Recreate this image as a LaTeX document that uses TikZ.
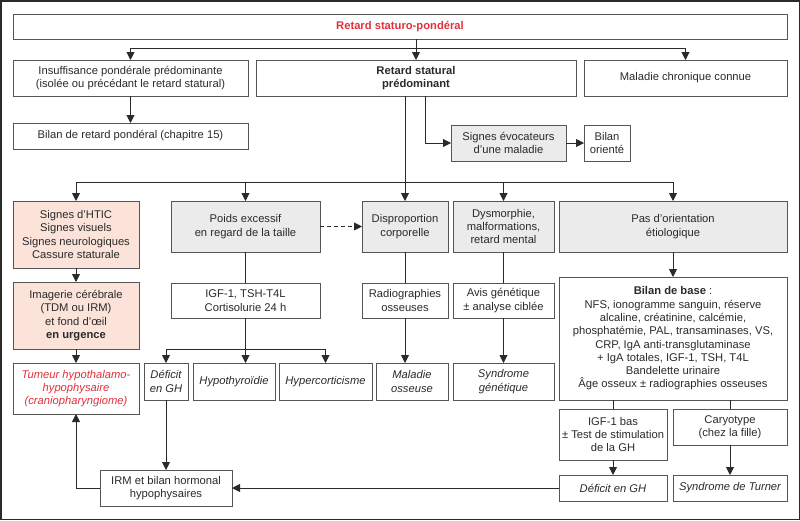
\documentclass[tikz,border=0pt]{standalone}
\usepackage{fontspec}
\setmainfont{Liberation Sans}
\usetikzlibrary{arrows.meta,calc}
\definecolor{txt}{HTML}{2A2A2A}
\definecolor{bord}{HTML}{555555}
\definecolor{grayf}{HTML}{EBEBEB}
\definecolor{peach}{HTML}{FBE3D9}
\definecolor{redt}{HTML}{E0303A}
\begin{document}
\begin{tikzpicture}[x=1pt,y=-1pt,
  box/.style={draw=bord,line width=0.9pt,inner sep=0pt,outer sep=0pt,align=center,text=txt,
    font=\fontsize{11.2}{13.3}\selectfont},
  gbox/.style={box,fill=grayf},
  pbox/.style={box,fill=peach},
  itbox/.style={box,font=\fontsize{11.2}{13.3}\selectfont\itshape},
  ln/.style={draw=txt,line width=0.9pt},
  arr/.style={ln,-{Triangle[length=8pt,width=8pt]}},
  wh/.style 2 args={minimum width=#1,minimum height=#2}]
\useasboundingbox (0,0) rectangle (800,520);
\draw[draw=txt,line width=1.5pt] (0.75,0.75) rectangle (799.25,519.25);
% row 1
\node[box,wh={774pt}{25pt},text=redt,font=\fontsize{11.2}{13.3}\selectfont\bfseries] (top) at (400,26.5) {Retard staturo-pondéral};
% row 2
\node[box,wh={235pt}{36pt}] (ins) at (130.5,78) {Insuffisance pondérale prédominante\\(isolée ou précédant le retard statural)};
\node[box,wh={320pt}{36pt},font=\fontsize{11.2}{13.3}\selectfont\bfseries] (rs) at (416,78) {Retard statural\\prédominant};
\node[box,wh={203pt}{36pt}] (mc) at (685.5,78) {Maladie chronique connue};
\node[box,wh={235pt}{26pt}] (bp) at (130.5,136) {Bilan de retard pondéral (chapitre 15)};
\node[gbox,wh={115pt}{36pt}] (se) at (508.5,143) {Signes évocateurs\\d’une maladie};
\node[box,wh={46pt}{36pt}] (bo) at (607,143) {Bilan\\orienté};
% row 3
\node[pbox,wh={126pt}{67pt}] (htic) at (76,234.5) {Signes d’HTIC\\Signes visuels\\Signes neurologiques\\Cassure staturale};
\node[gbox,wh={149pt}{51pt}] (pe) at (245.5,226.5) {Poids excessif\\en regard de la taille};
\node[gbox,wh={86pt}{51pt}] (dp) at (405,226.5) {Disproportion\\corporelle};
\node[gbox,wh={101pt}{51pt}] (dy) at (503.5,226.5) {Dysmorphie,\\malformations,\\retard mental};
\node[gbox,wh={228pt}{51pt}] (po) at (673,226.5) {Pas d’orientation\\étiologique};
% row 4
\node[pbox,wh={126pt}{67pt}] (img) at (76,315.5) {Imagerie cérébrale\\(TDM ou IRM)\\et fond d’œil\\\textbf{en urgence}};
\node[box,wh={149pt}{35pt}] (igf) at (245.5,300.5) {IGF-1, TSH-T4L\\Cortisolurie 24 h};
\node[box,wh={86pt}{35pt}] (rad) at (405,300.5) {Radiographies\\osseuses};
\node[box,wh={101pt}{35pt}] (avis) at (503.5,300.5) {Avis génétique\\± analyse ciblée};
\node[box,wh={228pt}{123pt}] (bb) at (673,338.5) {\textbf{Bilan de base} :\\NFS, ionogramme sanguin, réserve\\alcaline, créatinine, calcémie,\\phosphatémie, PAL, transaminases, VS,\\CRP, IgA anti-transglutaminase\\+ IgA totales, IGF-1, TSH, T4L\\Bandelette urinaire\\Âge osseux ± radiographies osseuses};
% row 5
\node[itbox,wh={126pt}{51pt},text=redt] (tum) at (76,388.5) {Tumeur hypothalamo-\\hypophysaire\\(craniopharyngiome)};
\node[itbox,wh={44pt}{37pt}] (dgh1) at (166,381.5) {Déficit\\en GH};
\node[itbox,wh={82pt}{37pt}] (hypo) at (234,381.5) {Hypothyroïdie};
\node[itbox,wh={93pt}{37pt}] (hyper) at (325.5,381.5) {Hypercorticisme};
\node[itbox,wh={72pt}{37pt}] (mo) at (412,381.5) {Maladie\\osseuse};
\node[itbox,wh={101pt}{37pt}] (sg) at (503.5,381.5) {Syndrome\\génétique};
\node[box,wh={108pt}{51pt}] (igfb) at (613,434.5) {IGF-1 bas\\± Test de stimulation\\de la GH};
\node[box,wh={114pt}{36pt}] (car) at (730,427) {Caryotype\\(chez la fille)};
\node[itbox,wh={108pt}{26pt}] (dgh2) at (613,488) {Déficit en GH};
\node[itbox,wh={114pt}{26pt}] (st) at (730,488) {Syndrome de Turner};
\node[box,wh={132pt}{36pt}] (irm) at (166,488) {IRM et bilan hormonal\\hypophysaires};
% connectors
\coordinate (j1) at (416,48);
\draw[ln] (top.south -| j1) -- (j1);
\draw[ln] (ins.north |- j1) -- (mc.north |- j1);
\draw[arr] (ins.north |- j1) -- (ins.north);
\draw[arr] (j1) -- (rs.north);
\draw[arr] (mc.north |- j1) -- (mc.north);
\draw[arr] (ins) -- (bp);
\coordinate (rsx) at (425,96);
\draw[arr] (rsx) |- (se.west);
\draw[arr] (se) -- (bo);
\coordinate (j2) at (405,182);
\draw[ln] (rs.south -| j2) -- (j2);
\draw[ln] (htic.north |- j2) -- (po.north |- j2);
\draw[arr] (htic.north |- j2) -- (htic.north);
\draw[arr] (pe.north |- j2) -- (pe.north);
\draw[arr] (j2) -- (dp.north);
\draw[arr] (dy.north |- j2) -- (dy.north);
\draw[arr] (po.north |- j2) -- (po.north);
\draw[arr,dash pattern=on 4pt off 3pt] (pe) -- (dp);
\draw[arr] (htic) -- (img);
\draw[arr] (img) -- (tum);
\draw[ln] (pe) -- (igf);
\draw[ln] (dp) -- (rad);
\draw[ln] (dy) -- (avis);
\draw[arr] (po) -- (bb);
\coordinate (j3) at (245.5,349);
\draw[ln] (igf.south) -- (j3);
\draw[ln] (dgh1.north |- j3) -- (hyper.north |- j3);
\draw[arr] (dgh1.north |- j3) -- (dgh1.north);
\draw[arr] (j3) -- (j3 |- hypo.north);
\draw[arr] (hyper.north |- j3) -- (hyper.north);
\draw[arr] (rad.south) -- (rad.south |- mo.north);
\draw[arr] (avis) -- (sg);
\draw[ln] (bb.south -| igfb.north) -- (igfb.north);
\draw[ln] (bb.south -| car.north) -- (car.north);
\draw[arr] (igfb) -- (dgh2);
\draw[arr] (car) -- (st);
\draw[arr] (dgh1) -- (irm);
\draw[arr] (dgh2) -- (irm);
\draw[arr] (irm.west) -| (tum.south);
\end{tikzpicture}
\end{document}
